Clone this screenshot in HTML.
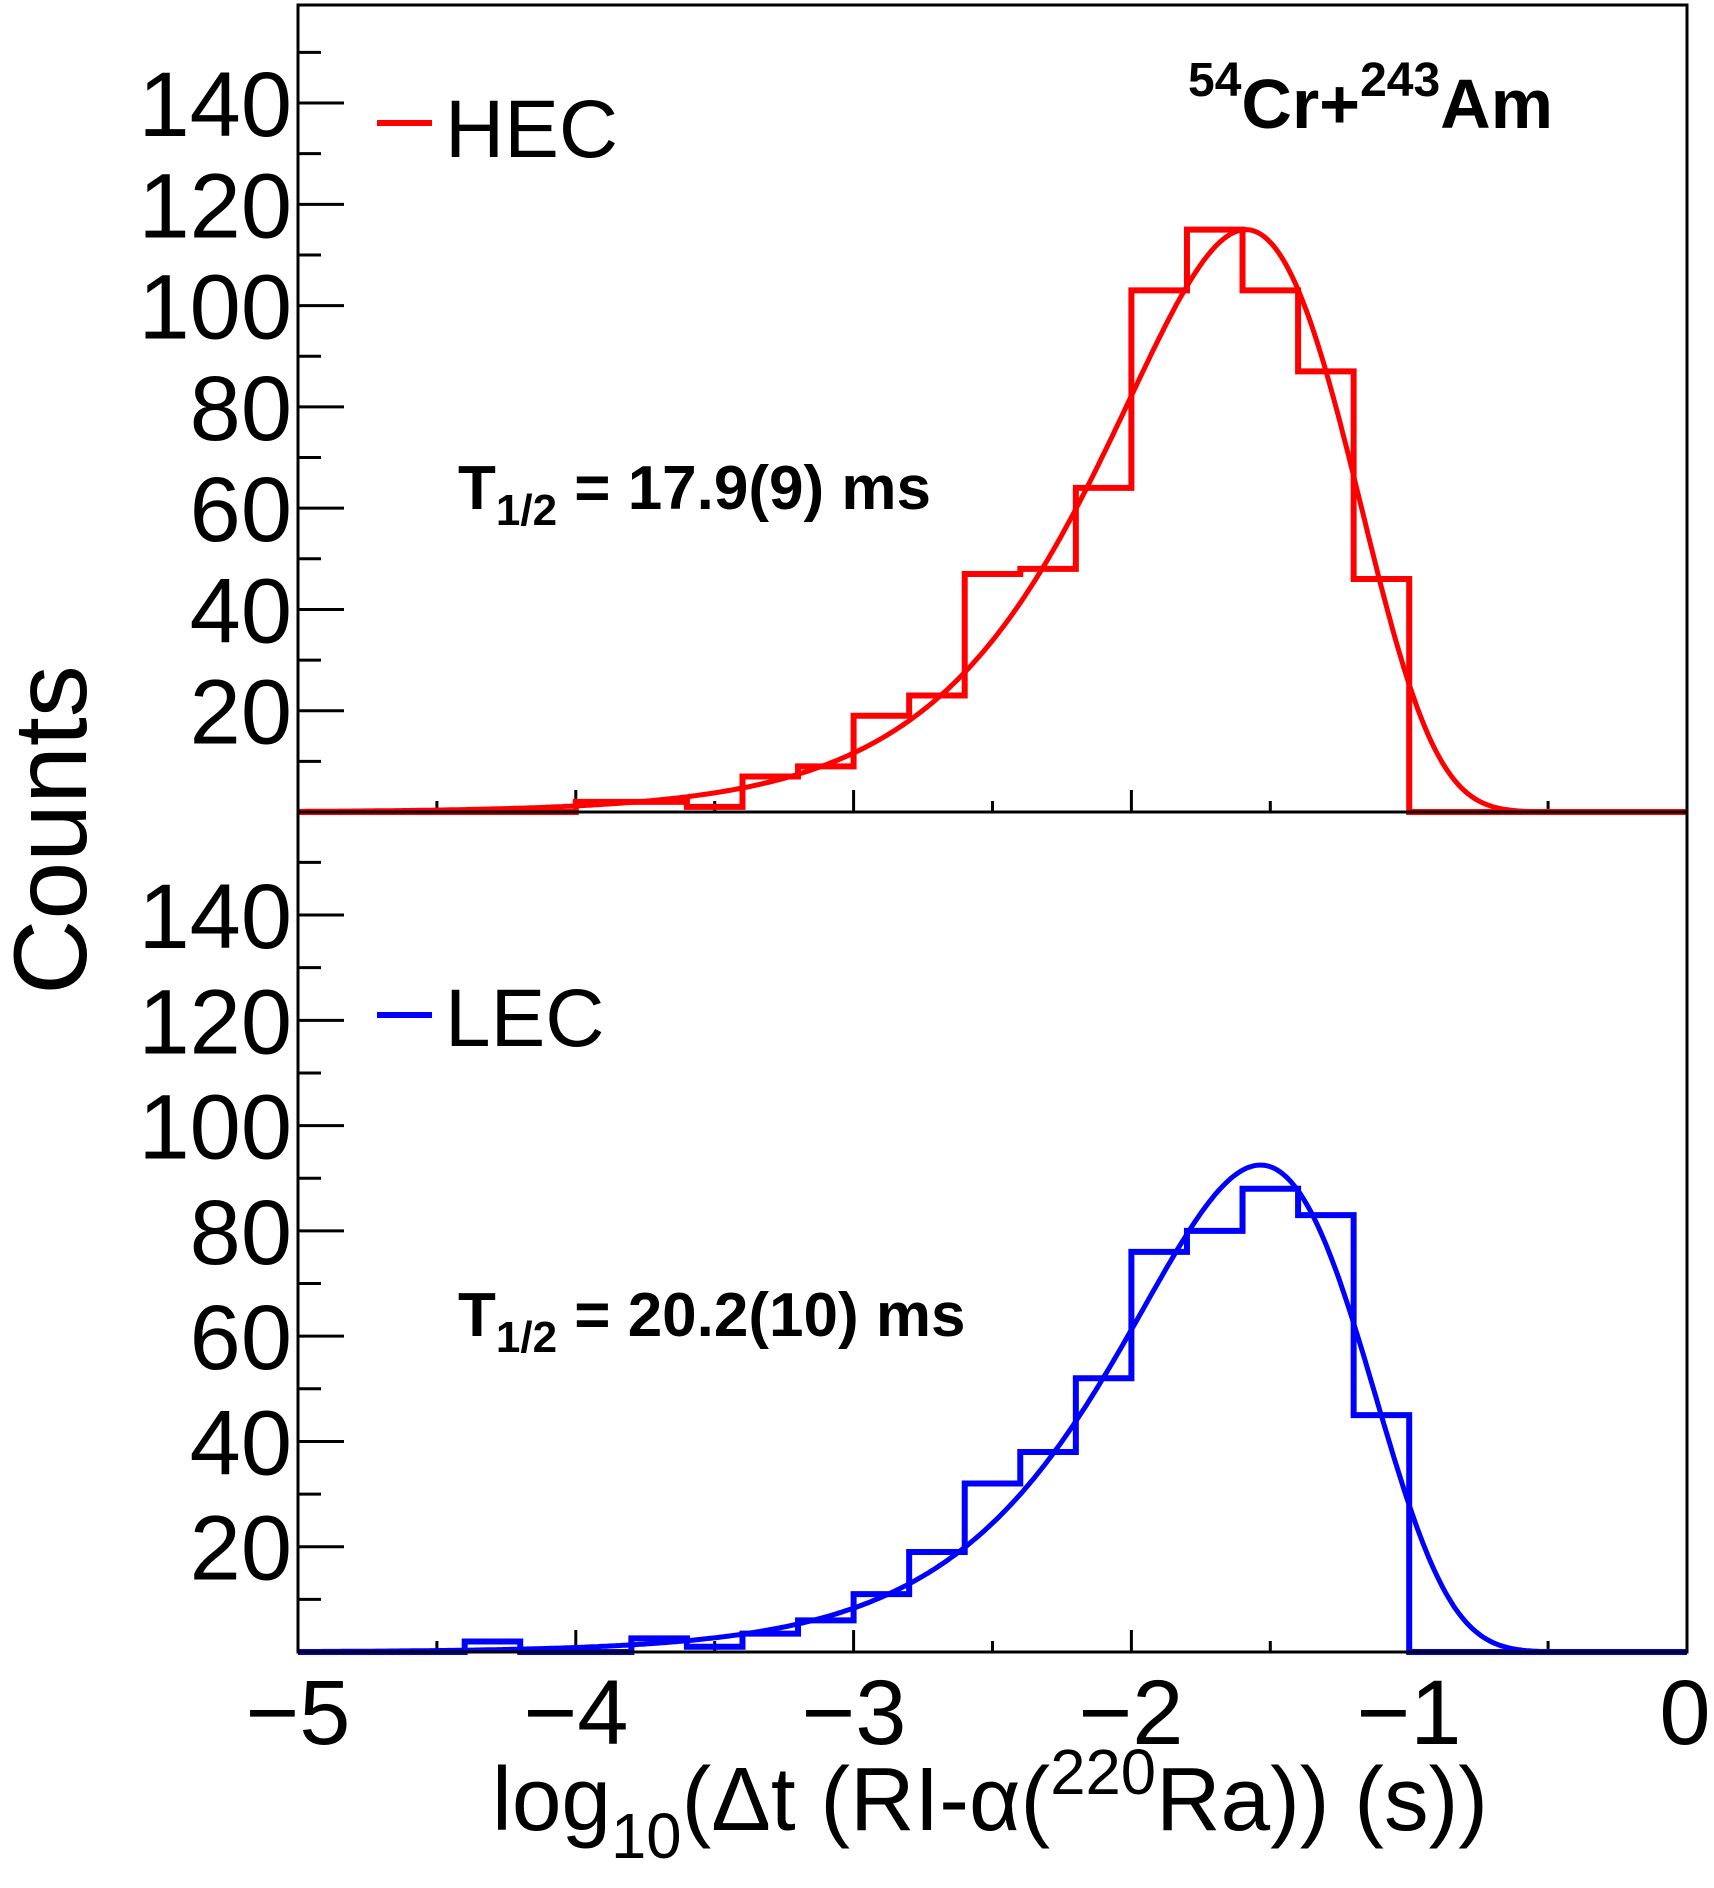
<!DOCTYPE html>
<html><head><meta charset="utf-8"><style>
html,body{margin:0;padding:0;background:#fff;}
svg{display:block;}
text{font-family:"Liberation Sans",sans-serif;fill:#000;}
</style></head><body>
<svg id="s" width="1714" height="1888" viewBox="0 0 1714 1888" xmlns="http://www.w3.org/2000/svg">
<rect width="1714" height="1888" fill="#fff"/>
<g id="axes" stroke="#000" stroke-width="3" fill="none"></g>
<path id="hh" fill="none" stroke="#ff0000" stroke-width="6"/>
<path id="hc" fill="none" stroke="#ff0000" stroke-width="5"/>
<path id="lh" fill="none" stroke="#0000ff" stroke-width="6"/>
<path id="lc" fill="none" stroke="#0000ff" stroke-width="5"/>
<rect x="298" y="5" width="1389" height="1647" fill="none" stroke="#000" stroke-width="3"/>
<line x1="298" y1="812" x2="1687" y2="812" stroke="#000" stroke-width="3"/>
<g id="labels" font-size="92" text-anchor="end"></g>
<g font-size="92" text-anchor="middle">
<text x="298" y="1744">−5</text><text x="576" y="1744">−4</text><text x="854" y="1744">−3</text>
<text x="1131" y="1744">−2</text><text x="1409" y="1744">−1</text><text x="1685" y="1744">0</text>
</g>
<text x="492" y="1830" font-size="90" textLength="996" lengthAdjust="spacingAndGlyphs">log<tspan font-size="64" dy="28">10</tspan><tspan dy="-28">(Δt (RI-α(</tspan><tspan font-size="64" dy="-36">220</tspan><tspan dy="36">Ra)) (s))</tspan></text>
<text transform="translate(86,830) rotate(-90)" font-size="104" text-anchor="middle">Counts</text>
<line x1="377" y1="123" x2="432" y2="123" stroke="#ff0000" stroke-width="6"/>
<text x="445" y="157" font-size="82">HEC</text>
<line x1="377" y1="1015" x2="432" y2="1015" stroke="#0000ff" stroke-width="6"/>
<text x="445" y="1046" font-size="82">LEC</text>
<text x="1188" y="128" font-size="70" font-weight="bold"><tspan font-size="48" dy="-32">54</tspan><tspan dy="32">Cr+</tspan><tspan font-size="48" dy="-32">243</tspan><tspan dy="32">Am</tspan></text>
<text x="458" y="509" font-size="62" font-weight="bold">T<tspan font-size="44" dy="16">1/2</tspan><tspan dy="-16"> = 17.9(9) ms</tspan></text>
<text x="458" y="1336" font-size="62" font-weight="bold">T<tspan font-size="44" dy="16">1/2</tspan><tspan dy="-16"> = 20.2(10) ms</tspan></text>
</svg>
<script>
var X=function(x){return 298+277.8*(x+5);};
var YU=function(c){return 812-5.064*c;};
var YL=function(c){return 1652-5.264*c;};
var ax='';
function yt(Y){
 for(var c=10;c<=150;c+=10){var y=Y(c);var L=(c%20==0)?46:23;ax+='<line x1="298" y1="'+y+'" x2="'+(298+L)+'" y2="'+y+'"/>';}
 var t='';for(var c=20;c<=140;c+=20){t+='<text x="292" y="'+(Y(c)+33)+'">'+c+'</text>';}
 return t;
}
var lb=yt(YU)+yt(YL);
document.getElementById('labels').innerHTML=lb;
[812,1652].forEach(function(y0){
 for(var x=-4.5;x<0;x+=0.5){var L=(Math.abs(x-Math.round(x))<1e-6)?22:11;ax+='<line x1="'+X(x)+'" y1="'+y0+'" x2="'+X(x)+'" y2="'+(y0-L)+'"/>';}
});
document.getElementById('axes').innerHTML=ax;
function hist(vals,Y){
 var d='M'+X(-5)+','+Y(0);
 for(var i=0;i<25;i++){var x0=-5+i*0.2,v=vals[i]||0;
  d+=' L'+X(x0)+','+Y(v)+' L'+X(x0+0.2)+','+Y(v);}
 return d;
}
function idx(x){return Math.round((x+5)/0.2);}
function s(o,x,v){o[idx(x)]=v;}
var hv={};
s(hv,-4.0,2);s(hv,-3.8,2);s(hv,-3.6,1);s(hv,-3.4,7);s(hv,-3.2,9);s(hv,-3.0,19);s(hv,-2.8,23);s(hv,-2.6,47);s(hv,-2.4,48);s(hv,-2.2,64);s(hv,-2.0,103);s(hv,-1.8,115);s(hv,-1.6,103);s(hv,-1.4,87);s(hv,-1.2,46);
var lv={};
s(lv,-4.4,2);s(lv,-3.8,2.6);s(lv,-3.6,1);s(lv,-3.4,3.5);s(lv,-3.2,6);s(lv,-3.0,11);s(lv,-2.8,19);s(lv,-2.6,32);s(lv,-2.4,38);s(lv,-2.2,52);s(lv,-2.0,76);s(lv,-1.8,80);s(lv,-1.6,88);s(lv,-1.4,83);s(lv,-1.2,45);
function arr(o){var a=[];for(var i=0;i<25;i++)a.push(o[i]||0);return a;}
document.getElementById('hh').setAttribute('d',hist(arr(hv),YU));
document.getElementById('lh').setAttribute('d',hist(arr(lv),YL));
function curve(A,lam,Y){var d='';for(var i=0;i<=500;i++){var x=-5+i*0.01;var u=lam*Math.pow(10,x);var f=A*u*Math.exp(-u);d+=(i?' L':'M')+X(x).toFixed(1)+','+Y(f).toFixed(1);}return d;}
document.getElementById('hc').setAttribute('d',curve(115*Math.E,Math.LN2/0.0179,YU));
document.getElementById('lc').setAttribute('d',curve(92.5*Math.E,Math.LN2/0.0202,YL));
</script>
</body></html>
